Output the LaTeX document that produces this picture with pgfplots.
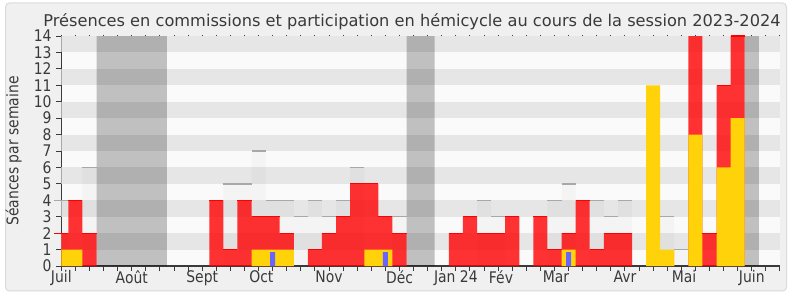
\documentclass[border=0pt]{standalone}
\usepackage{pgfplots}
\pgfplotsset{compat=1.18}
\usepackage{fontspec}
\setmainfont{DejaVu Sans}[FakeStretch=0.87]
\newfontfamily\titlefont{DejaVu Sans}
\definecolor{bandgray}{HTML}{E6E6E6}
\definecolor{bandwhite}{HTML}{FAFAFA}
\definecolor{panel}{HTML}{F0F0F0}
\definecolor{panelborder}{HTML}{DADADA}
\definecolor{txt}{HTML}{3A3A3A}
\definecolor{barred}{HTML}{FF0000}
\definecolor{baryellow}{RGB}{255,210,10}
\definecolor{barblue}{RGB}{102,102,255}
\definecolor{lightline}{HTML}{A8A8A8}
\newcommand{\chartfont}{\fontsize{12pt}{14pt}\selectfont}
\begin{document}
\begin{tikzpicture}[x=0.75pt,y=0.75pt]
\path[use as bounding box, fill=white] (0,0) rectangle (790,300);
\filldraw[fill=panel, draw=panelborder, line width=0.75pt, rounded corners=3pt] (5.5,9) rectangle (786.5,297);
\node[anchor=base, font=\titlefont\fontsize{12.15pt}{14pt}\selectfont, text=txt, inner sep=0pt] at (412,273.3) {Présences en commissions et participation en hémicycle au cours de la session 2023-2024};
\node[rotate=90, anchor=base, font=\chartfont, text=txt, inner sep=0pt] at (18.3,149) {Séances par semaine};
\begin{axis}[
  at={(45.98pt,25.5pt)}, anchor=south west,
  scale only axis, width=539pt, height=172.5pt,
  xmin=0, xmax=51, ymin=0, ymax=14,
  axis x line*=bottom, axis y line*=left,
  axis line style={txt, line width=1pt},
  axis background/.style={fill=bandwhite},
  tick align=outside, major tick length=3.75pt,
  tick style={txt, line width=0.75pt},
  ytick={0,...,14},
  xtick={0,...,51}, xticklabels={},
  extra x ticks={0,5,10,14.2,19,24,28,31.2,35.1,40,44.2,49},
  extra x tick labels={Juil,Août,Sept,Oct,Nov,Déc,Jan 24,Fév,Mar,Avr,Mai,Juin},
  extra x tick style={major tick length=0pt},
  ticklabel style={font=\chartfont, text=txt},
  /pgf/number format/assume math mode=true,
  clip=true,
]
\pgfplotsinvokeforeach{1,3,5,7,9,11,13}{
  \fill[bandgray] (axis cs:0,#1) rectangle (axis cs:51,#1+1);
}
% vacation periods
\addplot[draw=none, fill=black, fill opacity=0.23] coordinates {(2.5,0)(2.5,14)(7.5,14)(7.5,0)} \closedcycle;
\addplot[draw=none, fill=black, fill opacity=0.23] coordinates {(24.5,0)(24.5,14)(26.5,14)(26.5,0)} \closedcycle;
\addplot[draw=none, fill=black, fill opacity=0.23] coordinates {(48.5,0)(48.5,14)(49.5,14)(49.5,0)} \closedcycle;
% total weekly sessions (light bars)
\addplot[ybar, bar width=1, bar shift=0pt, draw=none, fill=black, fill opacity=0.025] coordinates {
(0,4)(2,6)(12,5)(13,5)(14,7)(15,4)(16,4)(17,3)(18,4)(19,3)(20,4)(21,6)(24,3)(30,4)(31,3)(35,4)(36,5)(38,4)(39,3)(40,4)(43,3)(44,1)};
\addplot[only marks, mark=-, mark size=5.28pt, mark options={draw=lightline, line width=1.1pt}] coordinates {
(0,4)(2,6)(12,5)(13,5)(14,7)(15,4)(16,4)(17,3)(18,4)(19,3)(20,4)(21,6)(24,3)(30,4)(31,3)(35,4)(36,5)(38,4)(39,3)(40,4)(43,3)(44,1)};
% commission presences (red)
\addplot[ybar, bar width=1, bar shift=0pt, draw=none, fill=barred, fill opacity=0.8] coordinates {
(0,2)(1,4)(2,2)(11,4)(12,1)(13,4)(14,3)(15,3)(16,2)(18,1)(19,2)(20,3)(21,5)(22,5)(23,3)(24,2)(28,2)(29,3)(30,2)(31,2)(32,3)(34,3)(35,1)(36,2)(37,4)(38,1)(39,2)(40,2)(45,16)(46,2)(47,11)(48,14)};
\addplot[only marks, mark=-, mark size=5.28pt, mark options={draw=barred, line width=0.8pt}] coordinates {
(0,2)(1,4)(2,2)(11,4)(12,1)(13,4)(14,3)(15,3)(16,2)(18,1)(19,2)(20,3)(21,5)(22,5)(23,3)(24,2)(28,2)(29,3)(30,2)(31,2)(32,3)(34,3)(35,1)(36,2)(37,4)(38,1)(39,2)(40,2)(45,16)(46,2)(47,11)(48,14)};
% hemicycle participation (yellow)
\addplot[ybar, bar width=1, bar shift=0pt, draw=none, fill=baryellow] coordinates {
(0,1)(1,1)(14,1)(15,1)(16,1)(22,1)(23,1)(36,1)(42,11)(43,1)(45,8)(47,6)(48,9)};
% questions (blue)
\addplot[ybar, bar width=0.36, bar shift=0pt, draw=none, fill=barblue] coordinates {
(15,0.85)(23,0.85)(36,0.85)};
\end{axis}
% top tick dots
\begin{axis}[
  at={(45.98pt,25.5pt)}, anchor=south west,
  scale only axis, width=539pt, height=172.5pt,
  xmin=0, xmax=51, ymin=0, ymax=14,
  axis x line*=top, axis y line=none,
  x axis line style={draw=none},
  xtick={0,...,51}, xticklabels={},
  tick align=outside, major tick length=0.9pt,
  tick style={txt, line width=0.75pt},
]
\end{axis}
\end{tikzpicture}
\end{document}
